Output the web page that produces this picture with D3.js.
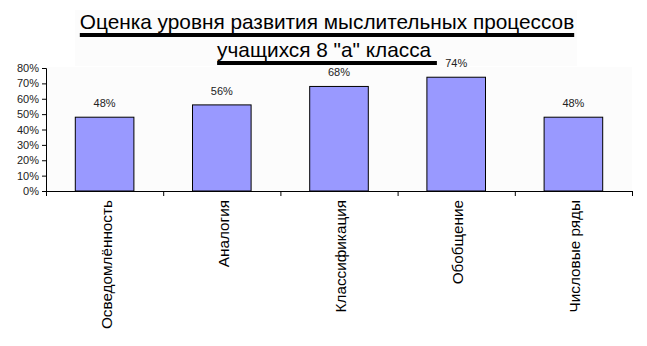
<!DOCTYPE html>
<html><head><meta charset="utf-8">
<script src="https://cdn.jsdelivr.net/npm/d3@7"></script>
<style>body{margin:0;background:#fff}svg{display:block}</style>
</head><body><svg id="c" width="647" height="346"></svg>
<script>
const categories = ["Осведомлённость","Аналогия","Классификация","Обобщение","Числовые ряды"];
const values = [0.48, 0.56, 0.68, 0.74, 0.48];
const yTicks = [0,0.1,0.2,0.3,0.4,0.5,0.6,0.7,0.8];
const titleLines = ["Оценка уровня развития мыслительных процессов", "учащихся 8 \"а\" класса "];

const svg = d3.select("#c");
const font = "'Liberation Sans', Arial, sans-serif";
const m = {l:46, r:632, t:68, b:191};

// faint backgrounds
svg.append("rect").attr("x",75).attr("y",10).attr("width",502).attr("height",56).attr("fill","#fcfcfc");
svg.append("rect").attr("x",m.l).attr("y",m.t-1).attr("width",m.r-m.l).attr("height",m.b-m.t+1).attr("fill","#fcfcfc");

const x = d3.scaleBand().domain(categories).range([m.l, m.r]).paddingInner(0.5).paddingOuter(0.25);
const y = d3.scaleLinear().domain([0,0.8]).range([m.b, m.t]);

// bars
svg.selectAll("rect.bar").data(values).join("rect").attr("class","bar")
  .attr("x",(d,i)=>x(categories[i])).attr("width",x.bandwidth())
  .attr("y",d=>y(d)).attr("height",d=>y(0)-y(d))
  .attr("fill","#9999ff").attr("stroke","#000").attr("stroke-width",1);

// data labels
svg.selectAll("text.dl").data(values).join("text").attr("class","dl")
  .attr("x",(d,i)=>x(categories[i])+x.bandwidth()/2).attr("y",d=>y(d)-10)
  .attr("text-anchor","middle").attr("font-family",font).attr("font-size",11).attr("fill","#222")
  .text(d=>Math.round(d*100)+"%");

// y axis
const ya = svg.append("g").attr("transform",`translate(${m.l},0)`)
  .call(d3.axisLeft(y).tickValues(yTicks).tickFormat(d3.format(".0%")).tickSize(4).tickPadding(3));
ya.select(".domain").attr("stroke","#000");
ya.selectAll("line").attr("stroke","#000");
ya.selectAll("text").attr("font-family",font).attr("font-size",11).attr("fill","#222");

// x axis with boundary ticks
const xb = d3.scaleLinear().domain([0,categories.length]).range([m.l,m.r]);
const xa = svg.append("g").attr("transform",`translate(0,${m.b})`)
  .call(d3.axisBottom(xb).tickValues(d3.range(categories.length+1)).tickSize(5).tickSizeOuter(0).tickFormat(""));
xa.select(".domain").attr("stroke","#000");
xa.selectAll("line").attr("stroke","#000");

// category labels
svg.selectAll("text.cat").data(categories).join("text").attr("class","cat")
  .attr("transform",d=>`translate(${x(d)+x.bandwidth()/2+7},${m.b+9}) rotate(-90)`)
  .attr("text-anchor","end").attr("font-family",font).attr("font-size",15.3).attr("fill","#000")
  .text(d=>d);

// title
const baselines = [29, 57];
titleLines.forEach((t,i)=>{
  const tx = svg.append("text").attr("x",327).attr("y",baselines[i]).attr("text-anchor","middle")
    .attr("font-family",font).attr("font-size",20.8).attr("fill","#000").style("white-space","pre").attr("xml:space","preserve").text(t);
  const bb = tx.node().getBBox();
  svg.append("rect").attr("x",bb.x).attr("y",baselines[i]+4).attr("width",bb.width).attr("height",4).attr("fill","#000");
});
</script></body></html>
